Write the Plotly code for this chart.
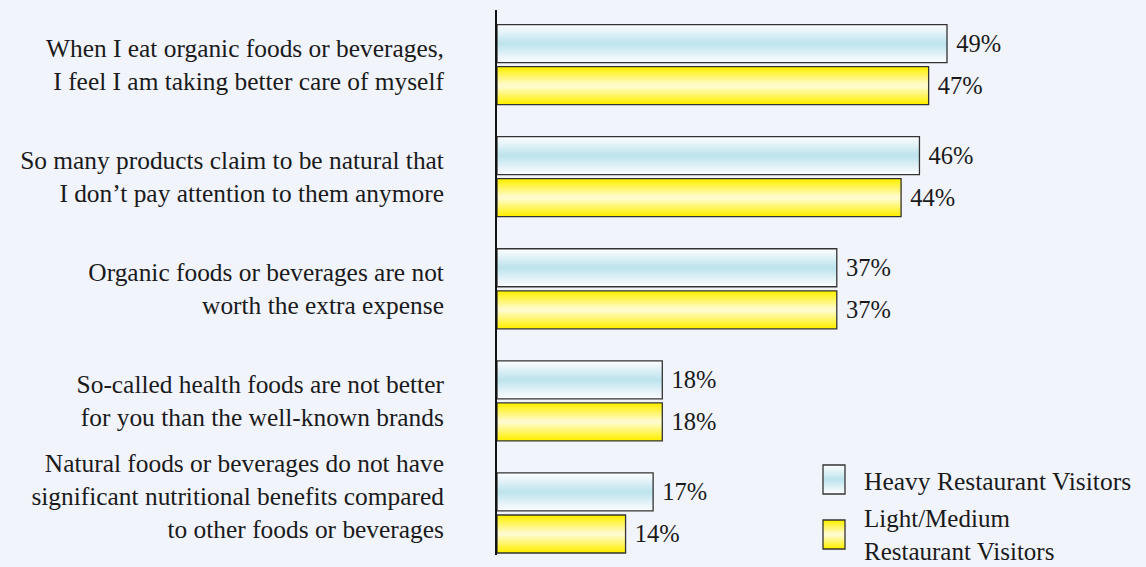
import plotly.graph_objects as go

# ---------------- data ----------------
categories = [
    "When I eat organic foods or beverages,<br>I feel I am taking better care of myself",
    "So many products claim to be natural that<br>I don\u2019t pay attention to them anymore",
    "Organic foods or beverages are not<br>worth the extra expense",
    "So-called health foods are not better<br>for you than the well-known brands",
    "Natural foods or beverages do not have<br>significant nutritional benefits compared<br>to other foods or beverages<br>\u00a0",
]
heavy = [49, 46, 37, 18, 17]
light = [47, 44, 37, 18, 14]
series_names = ["Heavy Restaurant Visitors", "Light/Medium<br>Restaurant Visitors"]

# ---------------- styling ----------------
FONT = "Liberation Serif, Times New Roman, serif"
BG = "#f1f4fa"
W, H = 1146, 567
ML, MR, MT, MB = 497, 10, 10, 12
BAR_W = 0.339
GAP = 0.036
N_LAYERS = 10

heavy_edge, heavy_center = (250, 253, 254), (192, 228, 238)
light_edge, light_center = (255, 240, 0), (255, 251, 205)


def lerp(a, b, t):
    return "rgb(%d,%d,%d)" % tuple(round(a[i] + (b[i] - a[i]) * t) for i in range(3))


fig = go.Figure()


def add_gradient_bar(values, offset, edge, center, name):
    for k in range(N_LAYERS):
        inset = k * BAR_W / (2 * N_LAYERS)
        fig.add_trace(go.Bar(
            y=categories, x=values, orientation="h",
            offset=offset + inset, width=BAR_W - 2 * inset,
            marker=dict(color=lerp(edge, center, k / (N_LAYERS - 1)), line=dict(width=0)),
            showlegend=False, hoverinfo="skip", name=name,
        ))
    # outline + value labels on top
    fig.add_trace(go.Bar(
        y=categories, x=values, orientation="h",
        offset=offset, width=BAR_W,
        marker=dict(color="rgba(0,0,0,0)", line=dict(color="#333333", width=1.3)),
        text=["\u00a0" + f"{v}%" for v in values], textposition="outside",
        textfont=dict(family=FONT, size=24.5, color="#1a1a1a"),
        cliponaxis=False, showlegend=False, hoverinfo="skip", name=name,
    ))


add_gradient_bar(heavy, -GAP / 2 - BAR_W, heavy_edge, heavy_center, series_names[0])
add_gradient_bar(light, GAP / 2, light_edge, light_center, series_names[1])

# ---------------- custom legend ----------------
plot_w = W - ML - MR
plot_h = H - MT - MB


def px_x(px):
    return (px - ML) / plot_w


def px_y(py):
    return (H - MB - py) / plot_h


def legend_box(x0, y0, x1, y1, edge, center):
    n = 8
    h = (y1 - y0)
    for k in range(n):
        inset = k * h / (2 * n)
        fig.add_shape(type="rect", xref="paper", yref="paper",
                      x0=px_x(x0), x1=px_x(x1), y0=px_y(y0 + inset), y1=px_y(y1 - inset),
                      fillcolor=lerp(edge, center, k / (n - 1)), line=dict(width=0), layer="above")
    fig.add_shape(type="rect", xref="paper", yref="paper",
                  x0=px_x(x0), x1=px_x(x1), y0=px_y(y0), y1=px_y(y1),
                  fillcolor="rgba(0,0,0,0)", line=dict(color="#333333", width=1.3), layer="above")


legend_box(823, 465, 845, 494, heavy_edge, heavy_center)
legend_box(823, 520, 845, 549, light_edge, light_center)
fig.add_annotation(xref="paper", yref="paper", x=px_x(863), y=px_y(481),
                   text=series_names[0], showarrow=False, xanchor="left", yanchor="middle",
                   align="left", borderpad=0,
                   font=dict(family=FONT, size=25.5, color="#1a1a1a"))
fig.add_annotation(xref="paper", yref="paper", x=px_x(863), y=px_y(535),
                   text=series_names[1], showarrow=False, xanchor="left", yanchor="middle",
                   align="left", borderpad=0,
                   font=dict(family=FONT, size=25, color="#1a1a1a"))

# ---------------- layout ----------------
px_per_unit = 450 / 49
fig.update_layout(
    width=W, height=H,
    margin=dict(l=ML, r=MR, t=MT, b=MB, autoexpand=False),
    paper_bgcolor=BG, plot_bgcolor=BG,
    barmode="overlay",
    showlegend=False,
    xaxis=dict(range=[0, plot_w / px_per_unit], visible=False, showgrid=False,
               zeroline=False, automargin=False),
    yaxis=dict(
        type="category", range=[4.375, -0.487], automargin=False,
        showline=True, linecolor="#111111", linewidth=2,
        showgrid=False, zeroline=False, ticks="",
        ticklabelstandoff=46,
        tickfont=dict(family=FONT, size=25.4, color="#1a1a1a"),
    ),
    font=dict(family=FONT),
)

fig.write_html(
    "out.html",
    config={"displayModeBar": False},
    post_script="document.body.style.margin='0';document.body.style.background='%s';" % BG,
)
